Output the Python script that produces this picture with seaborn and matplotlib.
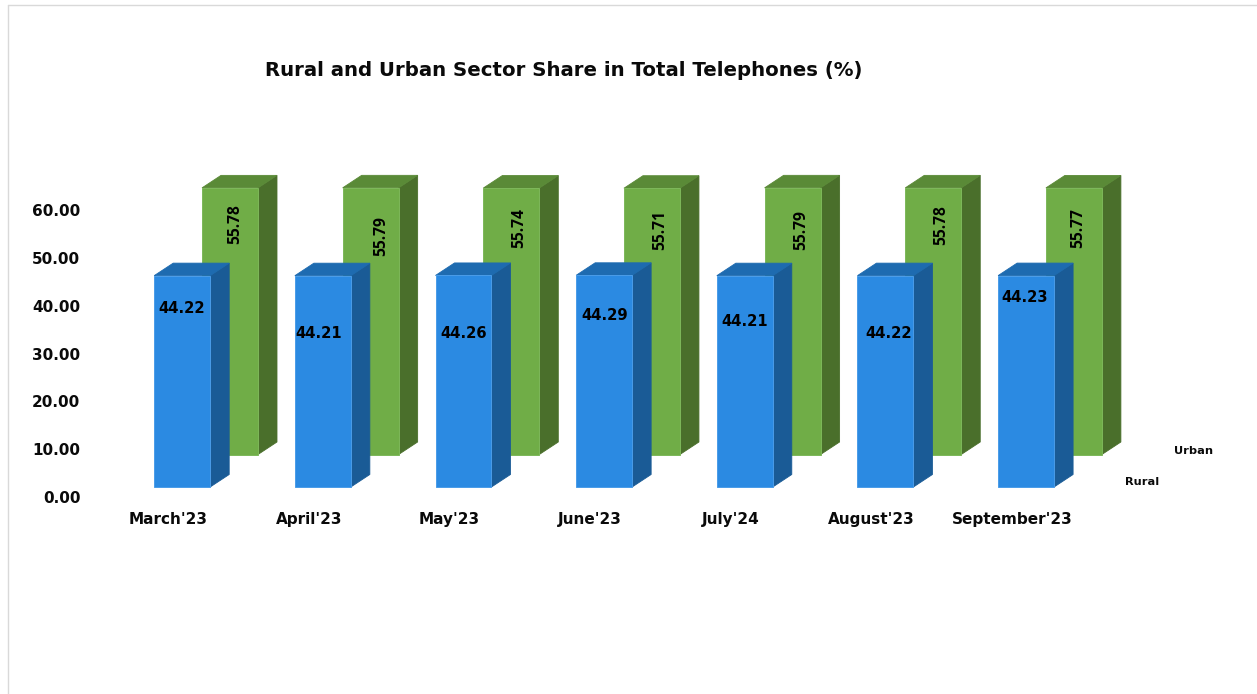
import numpy as np
import pandas as pd
import matplotlib
matplotlib.use("Agg")
import matplotlib.pyplot as plt
import seaborn as sns
from matplotlib.lines import Line2D
from matplotlib.patches import Polygon
from matplotlib.transforms import ScaledTranslation

# data
months = ["March'23", "April'23", "May'23", "June'23", "July'24", "August'23", "September'23"]
rural = [44.22, 44.21, 44.26, 44.29, 44.21, 44.22, 44.23]
urban = [55.78, 55.79, 55.74, 55.71, 55.79, 55.78, 55.77]
y_ticks = [0, 10, 20, 30, 40, 50, 60]

# hand placed data labels, pixels of the label centre
rural_label_xy = [(182, 309), (319, 334), (464, 333), (605, 315), (745, 321), (889, 333), (1025, 297)]
urban_label_xy = [(235, 224), (381, 236), (519, 228), (660, 230), (801, 230), (941, 225), (1078, 228)]

W, H, DPI = 1257, 694, 100
X0, STEP = 182.2, 140.65   # pixel of first rural bar centre, category spacing
Y0, PER_UNIT = 497, 4.78   # pixel of y=0 tick, pixels per unit

sns.set_theme(style="white")
plt.rcParams["font.family"] = ["DejaVu Sans"]

fig = plt.figure(figsize=(W / DPI, H / DPI), dpi=DPI)
left, right, top = 115, 1140, 100
ax = fig.add_axes([left / W, 1 - Y0 / H, (right - left) / W, (Y0 - top) / H])
ax.patch.set_alpha(0)

df = pd.DataFrame({"month": months, "rural": rural, "urban": urban})
sns.barplot(data=df, x="month", y="urban", order=months, color="#70AD47", width=0.398,
            saturation=1, ax=ax, zorder=2)
sns.barplot(data=df, x="month", y="rural", order=months, color="#2B8AE2", width=0.398,
            saturation=1, ax=ax, zorder=5)

ax.set_xlim((left - X0) / STEP, (right - X0) / STEP)
ax.set_ylim(0, (Y0 - top) / PER_UNIT)


def px_shift(dx, dy):
    return ScaledTranslation(dx / DPI, dy / DPI, fig.dpi_scale_trans)


def add_depth(container, shift, side_col, top_col, edge_col, z):
    # fake the 3d look: side and top faces hung on each real bar
    trans = ax.transData + shift
    dx = 19 / STEP
    dy = 12.5 / PER_UNIT
    for bar in container:
        bar.set_transform(trans)
        bar.set_clip_on(False)
        bar.set_edgecolor(edge_col)
        bar.set_linewidth(0.7)
        x1 = bar.get_x() + bar.get_width()
        x0 = bar.get_x()
        h = bar.get_height()
        side = [(x1, 0), (x1 + dx, dy), (x1 + dx, h + dy), (x1, h)]
        roof = [(x0, h), (x0 + dx, h + dy), (x1 + dx, h + dy), (x1, h)]
        ax.add_patch(Polygon(side, closed=True, fc=side_col, ec=side_col, lw=0.6,
                             transform=trans, clip_on=False, zorder=z))
        ax.add_patch(Polygon(roof, closed=True, fc=top_col, ec=top_col, lw=0.6,
                             transform=trans, clip_on=False, zorder=z))


add_depth(ax.containers[0], px_shift(47.8, 42.5), "#4A6F2B", "#5A8A37", "#7DB85A", 1.5)
add_depth(ax.containers[1], px_shift(0, 10), "#1A5B96", "#1E6BB0", "#4A9CE8", 4.5)

# tick labels sit left of the bars, as in the source
ax.set_xticks(np.arange(len(months)) - 0.1)
ax.set_xticklabels(months, fontsize=11, fontweight="bold", color="#0A0A0A")
ax.set_yticks(y_ticks)
ax.set_yticklabels([f"{v:.2f}" for v in y_ticks], fontsize=11, fontweight="bold", color="#0A0A0A")
ax.tick_params(axis="x", length=0, pad=10.5)
ax.tick_params(axis="y", length=0, pad=25)
ax.set_xlabel("")
ax.set_ylabel("")
sns.despine(ax=ax, left=True, bottom=True)


def at_px(x, y):
    return x / W, 1 - y / H


for v, (x, y) in zip(rural, rural_label_xy):
    fig.text(*at_px(x, y), f"{v:.2f}", ha="center", va="center", fontsize=10.6,
             fontweight="bold", color="black", zorder=10)
for v, (x, y) in zip(urban, urban_label_xy):
    fig.text(*at_px(x, y), f"{v:.2f}", ha="center", va="center", fontsize=11.2, rotation=90,
             fontweight="bold", family="Open Sans", color="black", zorder=10)

fig.text(*at_px(564, 70), "Rural and Urban Sector Share in Total Telephones (%)", ha="center",
         va="center", fontsize=14.2, fontweight="bold", color="#0A0A0A")
fig.text(*at_px(1193.5, 451), "Urban", ha="center", va="center", fontsize=8.2,
         fontweight="bold", color="#0A0A0A")
fig.text(*at_px(1142.5, 482), "Rural", ha="center", va="center", fontsize=8.2,
         fontweight="bold", color="#0A0A0A")

# chart frame, only left and top show inside the crop
for xs, ys in [((8, 8), (5, H)), ((8, W), (5, 5))]:
    fig.add_artist(Line2D([x / W for x in xs], [1 - y / H for y in ys], color="#D9D9D9", lw=1.0))

fig.savefig("out.png", dpi=DPI)
